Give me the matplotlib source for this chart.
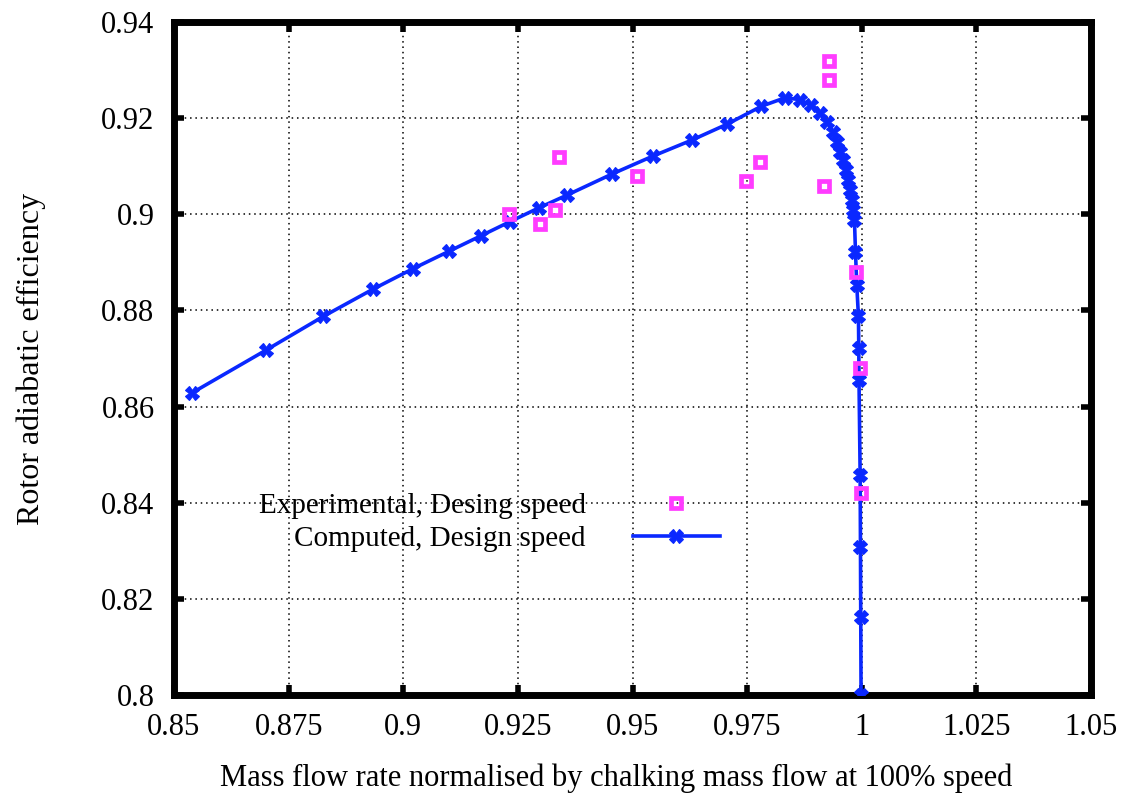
import matplotlib
matplotlib.use("Agg")
import matplotlib.pyplot as plt

# Computed, design speed
comp_x = [0.85385, 0.8700, 0.88254, 0.89341, 0.90217, 0.9100, 0.91689, 0.92326,
          0.92965, 0.93574, 0.94552, 0.95444, 0.96291, 0.97065, 0.97813, 0.98320,
          0.98646, 0.98885, 0.99080, 0.99239, 0.99370, 0.99457, 0.99530, 0.99587,
          0.99646, 0.99696, 0.99748, 0.99783, 0.99820, 0.99841, 0.99863, 0.99891,
          0.99928, 0.99935, 0.99940, 0.99965, 0.99972, 0.99978, 0.99985]
comp_y = [0.8628, 0.8717, 0.87874, 0.88443, 0.8887, 0.89232, 0.89550, 0.89846,
          0.90137, 0.9040, 0.90837, 0.91210, 0.91542, 0.91875, 0.92248, 0.92421,
          0.92387, 0.92269, 0.92109, 0.91922, 0.91715, 0.91507, 0.91300, 0.91127,
          0.90920, 0.90712, 0.90504, 0.90297, 0.90089, 0.89881, 0.89224, 0.88532,
          0.87874, 0.87218, 0.86560, 0.84567, 0.83079, 0.81613, 0.8000]

# Experimental, design speed
exp_x = [0.92304, 0.92978, 0.93304, 0.93391, 0.95096, 0.97472, 0.97791,
         0.99283, 0.99283, 0.99174, 0.99878, 0.99965, 0.99987]
exp_y = [0.9000, 0.89792, 0.90089, 0.91196, 0.90795, 0.90698, 0.91092,
         0.93189, 0.92788, 0.90594, 0.88796, 0.86803, 0.84193]

xticks = [0.85, 0.875, 0.9, 0.925, 0.95, 0.975, 1.0, 1.025, 1.05]
xtick_labels = ["0.85", "0.875", "0.9", "0.925", "0.95", "0.975", "1", "1.025", "1.05"]
yticks = [0.80, 0.82, 0.84, 0.86, 0.88, 0.90, 0.92, 0.94]
ytick_labels = ["0.8", "0.82", "0.84", "0.86", "0.88", "0.9", "0.92", "0.94"]

plt.rcParams['font.family'] = ['Liberation Serif', 'DejaVu Serif']

W, H = 1131, 796
fig = plt.figure(figsize=(W / 100, H / 100), dpi=100)
left, right, top, bottom = 174, 1091, 22, 695
ax = fig.add_axes([left / W, 1 - bottom / H, (right - left) / W, (bottom - top) / H])

blue = '#0a28ff'
mag = '#ff3cff'

ax.plot(exp_x, exp_y, linestyle='none', marker='s', markersize=7,
        markerfacecolor='none', markeredgecolor=mag, markeredgewidth=3.4,
        label='Experimental, Desing speed', zorder=4)
ax.plot(comp_x, comp_y, color=blue, linewidth=2.6, marker='X',
        markersize=10, markeredgewidth=0.8, markeredgecolor=blue,
        markerfacecolor=blue, label='Computed, Design speed', zorder=3)

ax.set_xlim(0.85, 1.05)
ax.set_ylim(0.80, 0.94)
ax.set_xticks(xticks)
ax.set_xticklabels(xtick_labels)
ax.set_yticks(yticks)
ax.set_yticklabels(ytick_labels)

ax.grid(True, color='black', linestyle=(0, (1, 2.5)), linewidth=1.1)
ax.set_axisbelow(True)

for s in ax.spines.values():
    s.set_linewidth(5)
ax.tick_params(axis='both', which='major', direction='in', length=7, width=4,
               top=True, right=True, labelsize=22, color='black')
ax.tick_params(axis='x', pad=13)
ax.tick_params(axis='y', pad=14)

ax.set_xlabel('Mass flow rate normalised by chalking mass flow at 100% speed',
              fontsize=22, labelpad=16)
ax.xaxis.set_label_coords((616 - left) / (right - left), -0.1025)
ax.set_ylabel('Rotor adiabatic efficiency', fontsize=23, labelpad=40)

leg = ax.legend(loc='upper right', bbox_to_anchor=(720 / W, 1 - 493 / H),
                bbox_transform=fig.transFigure, frameon=False, markerfirst=False,
                fontsize=21, handlelength=3.0, handletextpad=1.6,
                labelspacing=0.22, borderpad=0, borderaxespad=0)

fig.savefig('out.png', dpi=100)
